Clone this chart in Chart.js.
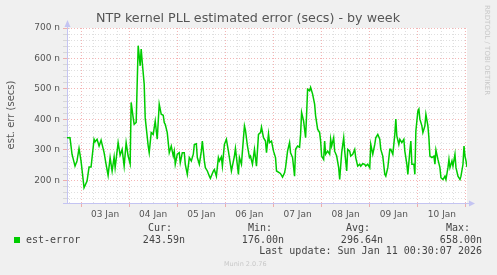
<!DOCTYPE html>
<html>
<head>
<meta charset="utf-8">
<script src="https://cdn.jsdelivr.net/npm/chart.js@4/dist/chart.umd.min.js"></script>
<style>
  html, body { margin: 0; padding: 0; background: #F0F0F0; }
  #wrap { width: 497px; height: 275px; }
</style>
</head>
<body>
<div id="wrap"><canvas id="ntpChart" width="497" height="275"></canvas></div>
<script>
// hours since 03 Jan 00:00, one reading per turning point of the trace
const hours = [
  -7, -5.5, -4.5, -3, -2, -1, 0, 1.5, 3, 4, 5, 6.5, 7, 8, 9, 10, 11.5, 12.5, 13.5, 14.5,
  15.5, 16.5, 17, 17.5, 18.5, 19.5, 20.5, 21.5, 22.5, 23.5, 24.5, 25, 26, 26.5, 27.5, 28.5, 29.5, 30, 30.5, 31.5,
  32, 33.5, 34, 35, 36, 37, 38, 39, 40, 41, 41.5, 42, 43, 44, 45, 46, 46.5, 47, 48, 49,
  49.5, 50.5, 51.5, 52, 53, 54, 55, 56, 56.5, 57.5, 58, 59, 60, 60.5, 61.5, 62, 63, 64, 64.5, 66,
  66.5, 67.5, 68.5, 69, 70, 70.5, 71.5, 72.5, 73.5, 74, 75, 76.5, 77, 78.5, 79, 80, 80.5, 81.5, 82, 83,
  84, 84.5, 85.5, 86.5, 87.5, 88.5, 89.5, 90, 91, 92, 92.5, 93.5, 94, 95, 96, 97, 97.5, 99, 99.5, 100.5,
  101.5, 102, 103, 104, 104.5, 105.5, 106.5, 107, 108, 109, 109.5, 110, 111, 112, 112.5, 113, 114, 114.5, 115.5, 116.5,
  117, 118, 119, 119.5, 120, 121, 121.5, 122, 123, 124, 124.5, 125, 126, 126.5, 127.5, 128.5, 129, 130, 131, 131.5,
  132.5, 133, 134, 134.5, 135.5, 136.5, 137, 138, 139, 139.5, 140.5, 141.5, 142, 143, 144, 144.5, 145.5, 146.5, 147, 148,
  149, 149.5, 150.5, 151.5, 152, 153, 154, 154.5, 155.5, 156.5, 157, 157.5, 158.5, 159, 160, 161, 161.5, 162.5, 163, 164,
  164.5, 165, 166, 166.5, 167, 168, 168.5, 169, 170, 170.5, 171.5, 172, 173, 173.5, 174, 175, 176, 176.5, 177, 178,
  179, 179.5, 180.5, 181.5, 182, 183, 183.5, 184, 185, 185.5, 186.5, 187, 188, 189, 189.5, 190.5, 191, 191.5, 192, 192.5
];
// est-error in nanoseconds
const estError = [
  340, 340, 286, 247, 264, 305, 264, 176, 198, 244, 244, 335, 327, 335, 313, 332, 291, 253, 217, 275,
  231, 277, 242, 269, 324, 283, 302, 247, 324, 280, 255, 456, 406, 384, 390, 642, 576, 631, 590, 516,
  406, 313, 291, 357, 351, 395, 335, 450, 417, 414, 390, 384, 357, 291, 313, 280, 296, 253, 286, 291,
  258, 291, 291, 253, 220, 275, 264, 286, 318, 320, 275, 253, 296, 329, 264, 242, 231, 214, 207, 231,
  236, 214, 275, 264, 277, 247, 318, 335, 296, 275, 231, 280, 305, 220, 275, 253, 296, 379, 365, 313,
  275, 280, 253, 302, 247, 351, 357, 375, 340, 329, 291, 353, 324, 329, 296, 275, 231, 225, 222, 211,
  225, 242, 296, 324, 291, 275, 214, 302, 313, 309, 351, 423, 395, 340, 417, 499, 494, 505, 483, 450,
  412, 368, 357, 329, 280, 269, 329, 286, 296, 286, 335, 313, 340, 296, 280, 242, 203, 291, 340, 296,
  231, 302, 296, 280, 286, 302, 275, 247, 253, 247, 255, 253, 247, 253, 242, 318, 286, 318, 340, 351,
  335, 302, 280, 220, 214, 242, 302, 302, 286, 351, 401, 346, 318, 335, 324, 335, 296, 253, 220, 296,
  329, 253, 253, 220, 362, 428, 434, 401, 379, 357, 379, 417, 379, 340, 280, 275, 280, 253, 300, 269,
  242, 209, 203, 214, 203, 242, 269, 242, 264, 247, 286, 242, 214, 203, 214, 253, 313, 280, 264, 244
];
const dayLabels = ['03 Jan', '04 Jan', '05 Jan', '06 Jan', '07 Jan', '08 Jan', '09 Jan', '10 Jan'];
const legendNames = ['Cur:', 'Min:', 'Avg:', 'Max:'];
const legendValues = ['243.59n', '176.00n', '296.64n', '658.00n'];
const lastUpdate = 'Last update: Sun Jan 11 00:30:07 2026';

const LINE = '#00CC00';
const MAJOR = 'rgba(235, 120, 120, 0.55)';
const MINOR = 'rgba(185, 185, 185, 0.45)';
const AXIS = '#C4C4F2';
const TXT = '#555555';

const muninDecor = {
  id: 'muninDecor',
  beforeDraw(chart) {
    const { ctx, chartArea: a } = chart;
    ctx.save();
    ctx.fillStyle = '#F0F0F0';
    ctx.fillRect(0, 0, chart.width, chart.height);
    ctx.fillStyle = '#FFFFFF';
    ctx.fillRect(a.left, a.top, a.right - a.left, a.bottom - a.top);
    ctx.restore();
  },
  afterDraw(chart) {
    const { ctx, chartArea: a } = chart;
    ctx.save();

    // title
    ctx.fillStyle = TXT;
    ctx.font = '12.7px "DejaVu Sans"';
    ctx.textAlign = 'center';
    ctx.textBaseline = 'alphabetic';
    ctx.fillText('NTP kernel PLL estimated error (secs) - by week', 248, 22);

    // y axis title
    ctx.save();
    ctx.translate(11, 115);
    ctx.rotate(-Math.PI / 2);
    ctx.font = '10px "DejaVu Sans"';
    ctx.textBaseline = 'middle';
    ctx.fillText('est. err (secs)', 0, 0);
    ctx.restore();

    // rrdtool watermark
    ctx.save();
    ctx.translate(487, 5);
    ctx.rotate(Math.PI / 2);
    ctx.font = '7px "DejaVu Sans"';
    ctx.fillStyle = '#C8C8C8';
    ctx.textAlign = 'left';
    ctx.textBaseline = 'middle';
    ctx.fillText('RRDTOOL / TOBI OETIKER', 0, 0);
    ctx.restore();

    // axis arrows
    ctx.fillStyle = AXIS;
    ctx.strokeStyle = AXIS;
    ctx.lineWidth = 1;
    ctx.beginPath();
    ctx.moveTo(a.left + 0.5, a.top);
    ctx.lineTo(a.left + 0.5, a.top - 2);
    ctx.moveTo(a.left - 4, a.bottom + 0.5);
    ctx.lineTo(a.left, a.bottom + 0.5);
    ctx.moveTo(a.right, a.bottom + 0.5);
    ctx.lineTo(a.right + 3, a.bottom + 0.5);
    ctx.stroke();
    ctx.beginPath();
    ctx.moveTo(a.left - 2.5, a.top - 1);
    ctx.lineTo(a.left + 3.5, a.top - 1);
    ctx.lineTo(a.left + 0.5, a.top - 8);
    ctx.closePath();
    ctx.fill();
    ctx.beginPath();
    ctx.moveTo(a.right + 2, a.bottom - 2.5);
    ctx.lineTo(a.right + 2, a.bottom + 3.5);
    ctx.lineTo(a.right + 8, a.bottom + 0.5);
    ctx.closePath();
    ctx.fill();

    // legend
    ctx.fillStyle = LINE;
    ctx.fillRect(14, 237, 6, 6);
    ctx.fillStyle = '#444444';
    ctx.font = '10px "DejaVu Sans Mono"';
    ctx.textAlign = 'left';
    ctx.fillText('est-error', 26, 243);
    const nameRight = [172, 272, 370, 470];
    const valueRight = [185, 284, 383, 482];
    ctx.textAlign = 'right';
    legendNames.forEach((n, i) => ctx.fillText(n, nameRight[i], 231));
    legendValues.forEach((v, i) => ctx.fillText(v, valueRight[i], 243));
    ctx.fillText(lastUpdate, 482, 254);

    ctx.fillStyle = '#C8C8C8';
    ctx.font = '6.5px "DejaVu Sans"';
    ctx.textAlign = 'left';
    ctx.fillText('Munin 2.0.76', 224, 266);
    ctx.restore();
  }
};

const ctx = document.getElementById('ntpChart');

new Chart(ctx, {
  type: 'line',
  data: {
    datasets: [{
      label: 'est-error',
      data: hours.map((h, i) => ({ x: h, y: estError[i] })),
      borderColor: LINE,
      borderWidth: 1.5,
      pointRadius: 0,
      tension: 0,
      fill: false
    }]
  },
  options: {
    responsive: false,
    animation: false,
    devicePixelRatio: 1,
    layout: { padding: { top: 28, right: 30, bottom: 52, left: 0 } },
    plugins: {
      legend: { display: false },
      title: { display: false },
      tooltip: { enabled: false }
    },
    scales: {
      x: {
        type: 'linear',
        min: -7,
        max: 192.5,
        afterFit: (s) => { s.height = 20; },
        afterBuildTicks: (s) => {
          const t = [];
          for (let h = -6; h <= 192; h += 6) t.push({ value: h });
          s.ticks = t;
        },
        ticks: {
          autoSkip: false,
          maxRotation: 0,
          padding: 2,
          color: TXT,
          font: { family: 'DejaVu Sans', size: 9 },
          callback: (v) => (v % 24 === 12 ? dayLabels[(v - 12) / 24] : '')
        },
        grid: {
          color: (c) => (c.tick && c.tick.value % 24 === 0 ? MAJOR : MINOR),
          tickColor: (c) => (c.tick && c.tick.value % 24 === 0 ? MAJOR : 'rgba(0,0,0,0)'),
          tickLength: 4,
          lineWidth: 1
        },
        border: { display: true, color: AXIS, width: 1, dash: [1, 2] }
      },
      y: {
        min: 126,
        max: 700,
        afterFit: (s) => { s.width = 67; },
        afterBuildTicks: (s) => {
          const t = [];
          for (let v = 140; v <= 700; v += 20) t.push({ value: v });
          s.ticks = t;
        },
        ticks: {
          autoSkip: false,
          padding: 3,
          color: TXT,
          font: { family: 'DejaVu Sans', size: 9 },
          callback: (v) => (v % 100 === 0 ? v + ' n' : '')
        },
        grid: {
          color: (c) => (c.tick && c.tick.value % 100 === 0 ? MAJOR : MINOR),
          tickColor: (c) => (c.tick && c.tick.value % 100 === 0 ? MAJOR : MINOR),
          tickLength: 4,
          lineWidth: 1
        },
        border: { display: true, color: AXIS, width: 1, dash: [1, 2] }
      }
    }
  },
  plugins: [muninDecor]
});
</script>
</body>
</html>
